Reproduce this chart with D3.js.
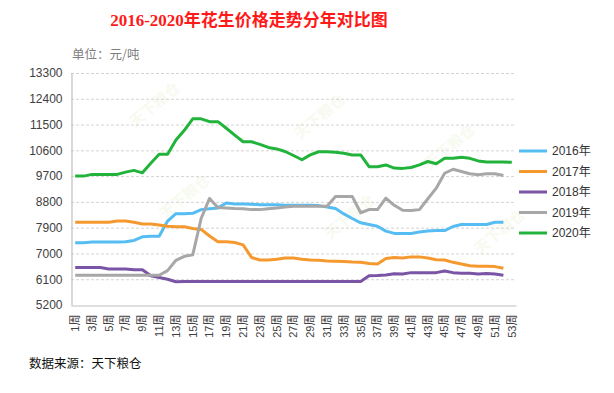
<!DOCTYPE html>
<html><head><meta charset="utf-8">
<script src="https://cdn.jsdelivr.net/npm/d3@7/dist/d3.min.js"></script>
<style>
body{margin:0;background:#fff;}
svg{display:block;}
</style></head>
<body><svg id="c" width="614" height="393"></svg>
<script>
const weeks = ["1周","2周","3周","4周","5周","6周","7周","8周","9周","10周","11周","12周","13周","14周","15周","16周","17周","18周","19周","20周","21周","22周","23周","24周","25周","26周","27周","28周","29周","30周","31周","32周","33周","34周","35周","36周","37周","38周","39周","40周","41周","42周","43周","44周","45周","46周","47周","48周","49周","50周","51周","52周","53周"];
const yTicks = [5200,6100,7000,7900,8800,9700,10600,11500,12400,13300];
const seriesNames = ["2016年","2017年","2018年","2019年","2020年"];
const s2016 = [7370,7370,7400,7400,7400,7400,7410,7455,7580,7600,7600,8130,8390,8390,8400,8530,8560,8590,8760,8730,8730,8720,8700,8700,8700,8680,8680,8680,8680,8670,8620,8570,8380,8220,8070,8010,7950,7780,7700,7700,7700,7745,7780,7800,7800,7940,8010,8010,8010,8010,8090,8090];
const s2017 = [8090,8090,8090,8090,8090,8130,8130,8090,8030,8030,7990,7950,7930,7930,7870,7840,7610,7410,7410,7380,7300,6860,6770,6770,6800,6840,6840,6800,6770,6760,6740,6730,6720,6700,6690,6650,6630,6820,6860,6840,6880,6880,6840,6780,6770,6690,6630,6570,6550,6550,6540,6480];
const s2018 = [6510,6510,6510,6510,6460,6460,6460,6430,6430,6220,6160,6100,6010,6020,6020,6020,6020,6020,6020,6020,6020,6020,6020,6020,6020,6020,6020,6020,6020,6020,6020,6020,6020,6020,6020,6220,6230,6250,6290,6280,6330,6330,6330,6330,6390,6330,6310,6310,6280,6300,6280,6240];
const s2019 = [6240,6240,6240,6240,6240,6240,6240,6240,6240,6240,6240,6400,6760,6900,6950,8220,8920,8600,8590,8570,8560,8530,8530,8560,8590,8620,8650,8650,8650,8650,8650,8990,8990,8990,8420,8530,8530,8930,8680,8510,8500,8530,8910,9280,9800,9940,9860,9780,9750,9780,9780,9720];
const s2020 = [9700,9700,9760,9760,9760,9760,9840,9900,9815,10150,10460,10460,10960,11300,11700,11700,11600,11600,11370,11130,10900,10900,10810,10700,10650,10560,10420,10270,10440,10550,10550,10530,10500,10440,10440,10030,10030,10090,9980,9970,10000,10090,10210,10130,10320,10320,10360,10320,10230,10190,10190,10190,10180];
const colors = ["#55bdf2","#f5992f","#7a55a5","#a7a7a7","#22b33c"];
const allSeries = [s2016,s2017,s2018,s2019,s2020];

const svg = d3.select("#c");
const L=71, R=516, T=73, B=305;
const x = d3.scaleBand().domain(weeks).range([L,R]);
const xc = w => x(w) + x.bandwidth()/2;
const y = d3.scaleLinear().domain([5200,13300]).range([B,T]);

// title
svg.append("text").attr("x",249).attr("y",26).attr("text-anchor","middle")
  .attr("fill","#ff1a1a").attr("font-weight","bold").attr("font-size",17)
  .attr("font-family","'Liberation Serif','Noto Sans CJK SC',serif")
  .text("2016-2020年花生价格走势分年对比图");
svg.append("text").attr("x",72).attr("y",59).attr("fill","#7f7f7f").attr("font-size",12.5)
  .attr("font-family","'Noto Sans CJK SC',sans-serif").text("单位：元/吨");

// watermarks (very faint)
const wm = [[135,128],[300,140],[165,220],[330,240],[430,170],[480,255]];
wm.forEach(([a,b])=>{
  svg.append("text").attr("transform",`translate(${a},${b}) rotate(-40)`)
    .attr("fill","#eef4dc").attr("opacity",0.45).attr("font-size",15).attr("font-weight","bold")
    .attr("font-family","'Noto Sans CJK SC',sans-serif").text("天下粮仓");
});

// grid
svg.append("g").selectAll("line").data(yTicks.slice(1)).join("line")
  .attr("x1",L).attr("x2",R).attr("y1",d=>y(d)+0.5).attr("y2",d=>y(d)+0.5)
  .attr("stroke","#d4d4d4").attr("stroke-dasharray","3,2").attr("stroke-width",1);

// y axis
const ya = svg.append("g").attr("transform",`translate(${L+0.5},0)`)
  .call(d3.axisLeft(y).tickValues(yTicks).tickSize(0).tickPadding(9).tickFormat(d=>d));
ya.select(".domain").attr("stroke","#bfbfbf").attr("stroke-width",1.2);
ya.selectAll("text").attr("font-size",12).attr("fill","#404040")
  .attr("font-family","'Liberation Sans',Arial,sans-serif");

// x axis
const xa = svg.append("g").attr("transform",`translate(0,${B+0.5})`)
  .call(d3.axisBottom(x).tickValues(weeks.filter((w,i)=>i%2===0)).tickSize(0));
xa.select(".domain").attr("stroke","#bfbfbf").attr("stroke-width",1.2);
xa.selectAll("text").attr("font-size",11).attr("fill","#404040")
  .attr("font-family","'Liberation Sans','Noto Sans CJK SC',sans-serif")
  .attr("text-anchor","end").attr("dy","0.35em")
  .attr("transform","translate(0,9) rotate(-90)").attr("x",0).attr("y",0);

// lines
const line = d3.line().x((d,i)=>xc(weeks[i])).y(d=>y(d));
allSeries.forEach((s,k)=>{
  svg.append("path").datum(s).attr("d",line).attr("fill","none")
    .attr("stroke",colors[k]).attr("stroke-width",3).attr("stroke-linejoin","round");
});

// legend
seriesNames.forEach((n,k)=>{
  const yy = 151 + k*20.5;
  svg.append("line").attr("x1",519).attr("x2",547).attr("y1",yy).attr("y2",yy)
    .attr("stroke",colors[k]).attr("stroke-width",3);
  svg.append("text").attr("x",552).attr("y",yy).attr("dy","0.35em").attr("font-size",12)
    .attr("fill","#333").attr("font-family","'Liberation Sans','Noto Sans CJK SC',sans-serif").text(n);
});

// source
svg.append("text").attr("x",29).attr("y",368).attr("font-size",12.5).attr("fill","#111")
  .attr("font-family","'Noto Sans CJK SC',sans-serif").text("数据来源：天下粮仓");
</script></body></html>
